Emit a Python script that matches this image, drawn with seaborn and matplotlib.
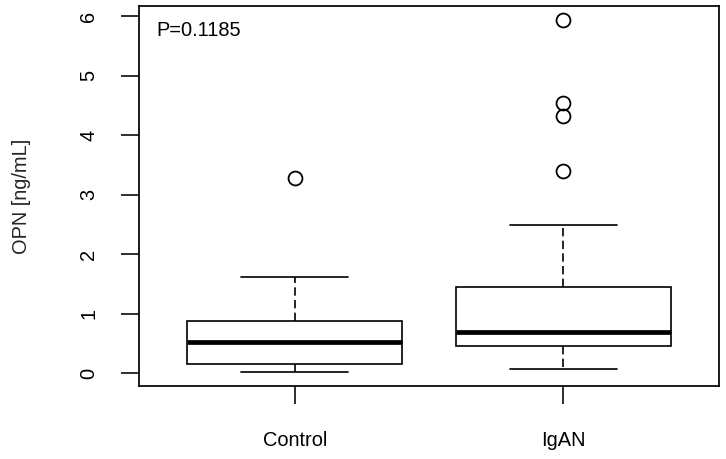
import numpy as np
import pandas as pd
import matplotlib
matplotlib.use("Agg")
import matplotlib.pyplot as plt
import seaborn as sns

# ---- data ----
groups = ["Control", "IgAN"]
# five-number summaries: [lower whisker, Q1, median, Q3, upper whisker]
control_stats = [0.02, 0.15, 0.53, 0.88, 1.62]
igan_stats = [0.07, 0.46, 0.70, 1.45, 2.49]
control_outliers = [3.28]
igan_outliers = [3.39, 4.32, 4.54, 5.93]
y_ticks = [0, 1, 2, 3, 4, 5, 6]
p_text = "P=0.1185"
y_label = "OPN [ng/mL]"


def sample_from_stats(stats, outliers):
    # build a sample whose quartiles (numpy linear method) equal the read stats
    k = 1 + len(outliers)  # points between each quartile
    lo, q1, med, q3, hi = stats
    vals = [lo] + [q1] * k + [med] * k + [q3] * k + [hi] + list(outliers)
    return vals


rows = []
for g, st, out in [("Control", control_stats, control_outliers),
                   ("IgAN", igan_stats, igan_outliers)]:
    for v in sample_from_stats(st, out):
        rows.append({"group": g, "value": v})
df = pd.DataFrame(rows)

sns.set_style("white")
plt.rcParams["font.family"] = ["Liberation Sans", "DejaVu Sans"]

fs = 14.4
fig = plt.figure(figsize=(7.26, 4.59), dpi=100)
ax = fig.add_axes([139 / 726, 1 - 386 / 459, 580 / 726, 380 / 459])

lw = 1.2
sns.boxplot(
    data=df, x="group", y="value", order=groups, ax=ax,
    width=0.8, whis=1.5, color="white", linecolor="black", linewidth=lw,
    medianprops=dict(linewidth=3.4, color="black", solid_capstyle="butt"),
    whiskerprops=dict(linestyle=(0, (5, 2.6)), linewidth=lw, color="black"),
    capprops=dict(linewidth=lw, color="black"),
    boxprops=dict(linewidth=lw, edgecolor="black", facecolor="white"),
    flierprops=dict(marker="o", markersize=10, markerfacecolor="none",
                    markeredgecolor="black", markeredgewidth=1.3),
    saturation=1,
)

ax.set_xlim(-0.58, 1.58)
ax.set_ylim(-0.215, 6.17)
ax.set_yticks(y_ticks)
ax.set_yticklabels([str(t) for t in y_ticks], rotation=90, va="center")
ax.set_xlabel("")
ax.set_ylabel(y_label, fontsize=fs, labelpad=0)
ax.yaxis.set_label_coords(-(139 - 31) / 580, 0.5)

for s in ax.spines.values():
    s.set_visible(True)
    s.set_color("black")
    s.set_linewidth(1.25)

ax.tick_params(axis="both", which="major", direction="out", length=12.7,
               width=1.15, color="black", labelsize=fs, labelcolor="black")
ax.tick_params(axis="y", pad=16.5, left=True)
ax.tick_params(axis="x", pad=20, bottom=True)

ax.text((156 - 139) / 580, (386 - 30.5) / 380, p_text, transform=ax.transAxes,
        ha="left", va="center", fontsize=fs, color="black")

fig.savefig("out.png", dpi=100, facecolor="white")
